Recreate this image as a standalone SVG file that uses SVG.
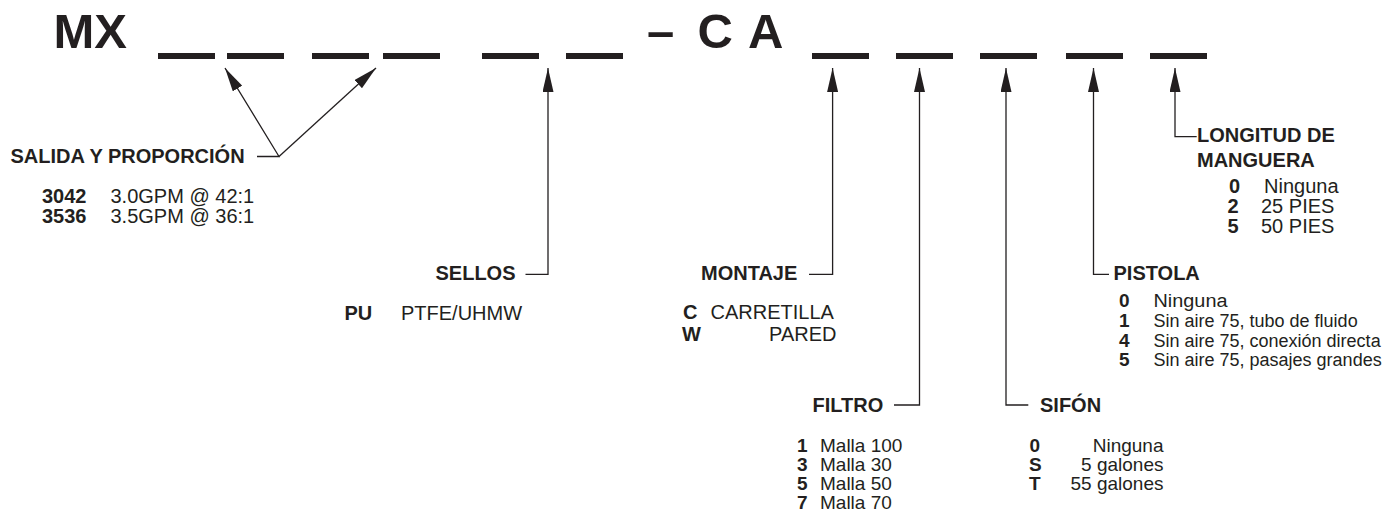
<svg xmlns="http://www.w3.org/2000/svg" width="1400" height="517" viewBox="0 0 1400 517">
<style>
text{font-family:"Liberation Sans",Arial,Helvetica,sans-serif;fill:#231f20}
.h{font-weight:bold;font-size:20px}
.b{font-weight:bold;font-size:20px}
.r{font-size:20px}
.bs{font-weight:bold;font-size:19px}
.rs{font-size:19px}
.rp{font-size:18px}
.bp{font-weight:bold;font-size:19px}
.t{font-weight:bold;font-size:49px}
.dash{fill:#231f20}
.c{fill:none;stroke:#231f20;stroke-width:1.3;marker-end:url(#ah)}
</style>
<defs>
<marker id="ah" markerUnits="userSpaceOnUse" viewBox="0 0 24 11" refX="24" refY="5.5" markerWidth="24" markerHeight="11" orient="auto">
<path d="M0,0 L24,5.5 L0,11 Z" fill="#231f20"/>
</marker>
</defs>
<g id="header">
<text class="t" x="53.5" y="48">MX</text>
<text class="t" x="647" y="48">–</text>
<text class="t" x="697.5" y="48">C</text>
<text class="t" x="748" y="48">A</text>
<rect class="dash" x="158" y="53" width="57" height="6"/>
<rect class="dash" x="227" y="53" width="57" height="6"/>
<rect class="dash" x="312" y="53" width="57" height="6"/>
<rect class="dash" x="383" y="53" width="57" height="6"/>
<rect class="dash" x="482" y="53" width="57" height="6"/>
<rect class="dash" x="566" y="53" width="57" height="6"/>
<rect class="dash" x="812" y="53" width="57" height="6"/>
<rect class="dash" x="896" y="53" width="57" height="6"/>
<rect class="dash" x="980" y="53" width="57" height="6"/>
<rect class="dash" x="1066" y="53" width="57" height="6"/>
<rect class="dash" x="1150" y="53" width="57" height="6"/>
</g>
<g id="connectors">
<path class="c" d="M257,156.5 H279 L225,68"/>
<path class="c" d="M279,156.5 L376,68"/>
<path class="c" d="M525.5,274.3 H548 V68"/>
<path class="c" d="M809,274.3 H832.6 V68"/>
<path class="c" d="M894,405 H919.5 V68"/>
<path class="c" d="M1028.3,405 H1006 V68"/>
<path class="c" d="M1109,274.3 H1093.5 V68"/>
<path class="c" d="M1196.7,136.7 H1175 V68"/>
</g>
<g id="salida">
<text class="h" x="10.5" y="163">SALIDA Y PROPORCIÓN</text>
<text class="b" x="42" y="203">3042</text>
<text class="r" x="110.5" y="203">3.0GPM @ 42:1</text>
<text class="b" x="42" y="223">3536</text>
<text class="r" x="110.5" y="223">3.5GPM @ 36:1</text>
</g>
<g id="sellos">
<text class="h" x="435.5" y="279.5">SELLOS</text>
<text class="b" x="344.5" y="320">PU</text>
<text class="r" x="401" y="320">PTFE/UHMW</text>
</g>
<g id="montaje">
<text class="h" x="701" y="279.5">MONTAJE</text>
<text class="b" x="683" y="319">C</text>
<text class="r" x="710.5" y="319">CARRETILLA</text>
<text class="b" x="682" y="340.5">W</text>
<text class="r" x="836.5" y="340.5" text-anchor="end">PARED</text>
</g>
<g id="filtro">
<text class="h" x="812.5" y="411.7">FILTRO</text>
<text class="bs" x="797" y="451.7">1</text>
<text class="rs" x="820" y="451.7">Malla 100</text>
<text class="bs" x="797" y="470.7">3</text>
<text class="rs" x="820" y="470.7">Malla 30</text>
<text class="bs" x="797" y="489.7">5</text>
<text class="rs" x="820" y="489.7">Malla 50</text>
<text class="bs" x="797" y="508.7">7</text>
<text class="rs" x="820" y="508.7">Malla 70</text>
</g>
<g id="sifon">
<text class="h" x="1040" y="411.7">SIFÓN</text>
<text class="bs" x="1029.5" y="451.7">0</text>
<text class="rs" x="1163.5" y="451.7" text-anchor="end">Ninguna</text>
<text class="bs" x="1029" y="470.7">S</text>
<text class="rs" x="1163.5" y="470.7" text-anchor="end">5 galones</text>
<text class="bs" x="1029" y="489.7">T</text>
<text class="rs" x="1163.5" y="489.7" text-anchor="end">55 galones</text>
</g>
<g id="pistola">
<text class="h" x="1113.5" y="280">PISTOLA</text>
<text class="bp" x="1119" y="306.7">0</text>
<text class="rp" x="1153.5" y="306.7" textLength="74" lengthAdjust="spacingAndGlyphs">Ninguna</text>
<text class="bp" x="1119" y="326.7">1</text>
<text class="rp" x="1153.5" y="326.7">Sin aire 75, tubo de fluido</text>
<text class="bp" x="1119" y="346.7">4</text>
<text class="rp" x="1153.5" y="346.7">Sin aire 75, conexión directa</text>
<text class="bp" x="1119" y="366.3">5</text>
<text class="rp" x="1153.5" y="366.3">Sin aire 75, pasajes grandes</text>
</g>
<g id="longitud">
<text class="h" x="1197" y="141.7">LONGITUD DE</text>
<text class="h" x="1197" y="166.7">MANGUERA</text>
<text class="b" x="1229" y="192.7">0</text>
<text class="r" x="1264" y="192.7">Ninguna</text>
<text class="b" x="1227.5" y="212.7">2</text>
<text class="r" x="1261" y="212.7">25 PIES</text>
<text class="b" x="1227.5" y="233.3">5</text>
<text class="r" x="1261" y="233.3">50 PIES</text>
</g>
</svg>
